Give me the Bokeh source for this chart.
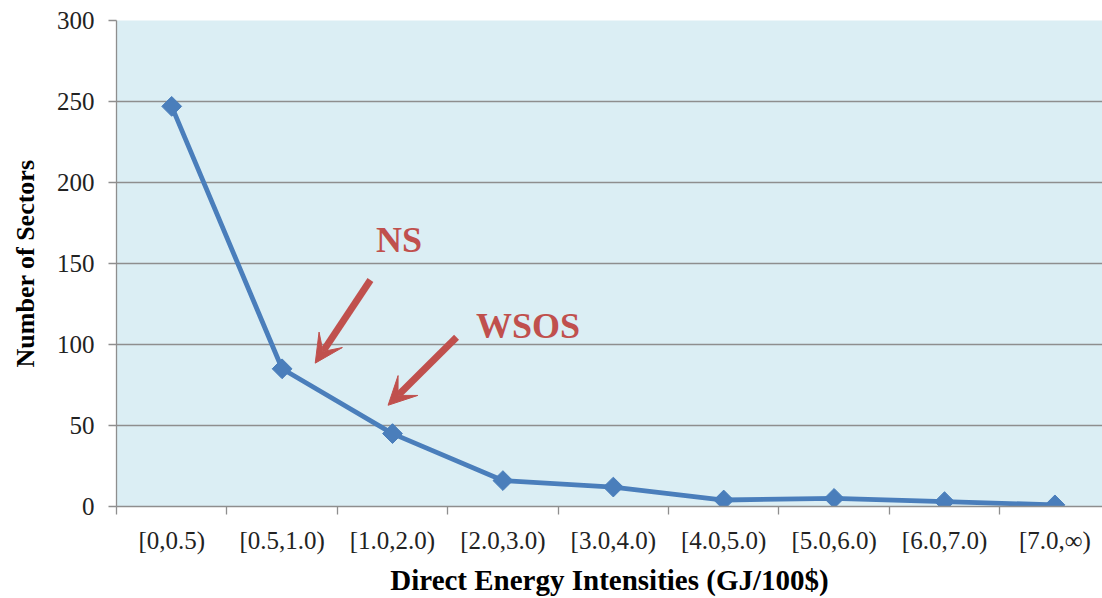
import numpy as np
from bokeh.plotting import figure
from bokeh.models import (Range1d, FixedTicker, CustomJSTickFormatter, Label, Arrow,
                          VeeHead, ColumnDataSource)
from bokeh.embed import file_html
from bokeh.resources import INLINE

categories = ["[0,0.5)", "[0.5,1.0)", "[1.0,2.0)", "[2.0,3.0)", "[3.0,4.0)",
              "[4.0,5.0)", "[5.0,6.0)", "[6.0,7.0)", "[7.0,\u221e)"]
sectors = [247, 85, 45, 16, 12, 4, 5, 3, 1]
y_ticks = [0, 50, 100, 150, 200, 250, 300]

FONT = "Liberation Serif"
RED = "#c0504d"
BLUE = "#4a7ebb"

xpos = [i + 0.5 for i in range(len(categories))]
src = ColumnDataSource(dict(x=xpos, y=sectors, cat=categories))

p = figure(width=1102, height=598, output_backend="svg", toolbar_location=None,
           x_range=Range1d(0, 8.931), y_range=Range1d(0, 300),
           min_border_left=116, min_border_right=0, min_border_top=20, min_border_bottom=20)
p.background_fill_color = "#dbeef4"
p.border_fill_color = "white"
p.outline_line_color = None

p.line("x", "y", source=src, line_color=BLUE, line_width=4.8)
p.scatter("x", "y", source=src, marker="square", angle=np.pi / 4, size=14,
          fill_color=BLUE, line_color=BLUE)

# x axis
xa = p.xaxis[0]
xa.ticker = FixedTicker(ticks=xpos, minor_ticks=list(range(len(categories))))
xa.formatter = CustomJSTickFormatter(args=dict(labels=categories),
                                     code="return labels[Math.floor(tick)] || '';")
xa.major_tick_out = 0
xa.major_tick_in = 0
xa.minor_tick_out = 8
xa.minor_tick_in = 0
xa.minor_tick_line_color = "#8e8e8e"
xa.minor_tick_line_width = 1.3
xa.axis_line_color = "#8e8e8e"
xa.axis_line_width = 1.3
xa.major_label_text_font = FONT
xa.major_label_text_font_size = "25px"
xa.major_label_text_color = "#222222"
xa.major_label_standoff = 12
xa.axis_label = "Direct Energy Intensities (GJ/100$)"
xa.axis_label_text_font = FONT
xa.axis_label_text_font_style = "bold"
xa.axis_label_text_font_size = "29px"
xa.axis_label_text_color = "#000000"
xa.axis_label_standoff = 7

# y axis
ya = p.yaxis[0]
ya.ticker = FixedTicker(ticks=y_ticks)
ya.major_tick_out = 8
ya.major_tick_in = 0
ya.minor_tick_line_color = None
ya.major_tick_line_color = "#8e8e8e"
ya.major_tick_line_width = 1.3
ya.axis_line_color = "#8e8e8e"
ya.axis_line_width = 1.3
ya.major_label_text_font = FONT
ya.major_label_text_font_size = "25px"
ya.major_label_text_color = "#222222"
ya.major_label_standoff = 14
ya.axis_label = "Number of Sectors"
ya.axis_label_text_font = FONT
ya.axis_label_text_font_style = "bold"
ya.axis_label_text_font_size = "26px"
ya.axis_label_text_color = "#000000"
ya.axis_label_standoff = 14

p.xgrid.grid_line_color = None
p.ygrid.ticker = FixedTicker(ticks=y_ticks)
p.ygrid.grid_line_color = "#8e8e8e"
p.ygrid.grid_line_width = 1.5

# annotations
p.add_layout(Arrow(x_start=2.30, y_start=139.8, x_end=1.80, y_end=88.5,
                   line_color=RED, line_width=7,
                   end=VeeHead(size=28, fill_color=RED, line_color=RED, line_width=1)))
p.add_layout(Arrow(x_start=3.08, y_start=104.5, x_end=2.46, y_end=62.5,
                   line_color=RED, line_width=7,
                   end=VeeHead(size=28, fill_color=RED, line_color=RED, line_width=1)))
p.add_layout(Label(x=2.559, y=164.2, text="NS", text_align="center", text_baseline="middle",
                   text_font=FONT, text_font_style="bold", text_font_size="36px",
                   text_color=RED))
p.add_layout(Label(x=3.727, y=111.2, text="WSOS", text_align="center", text_baseline="middle",
                   text_font=FONT, text_font_style="bold", text_font_size="36px",
                   text_color=RED))

open("out.html", "w").write(file_html(p, INLINE))
